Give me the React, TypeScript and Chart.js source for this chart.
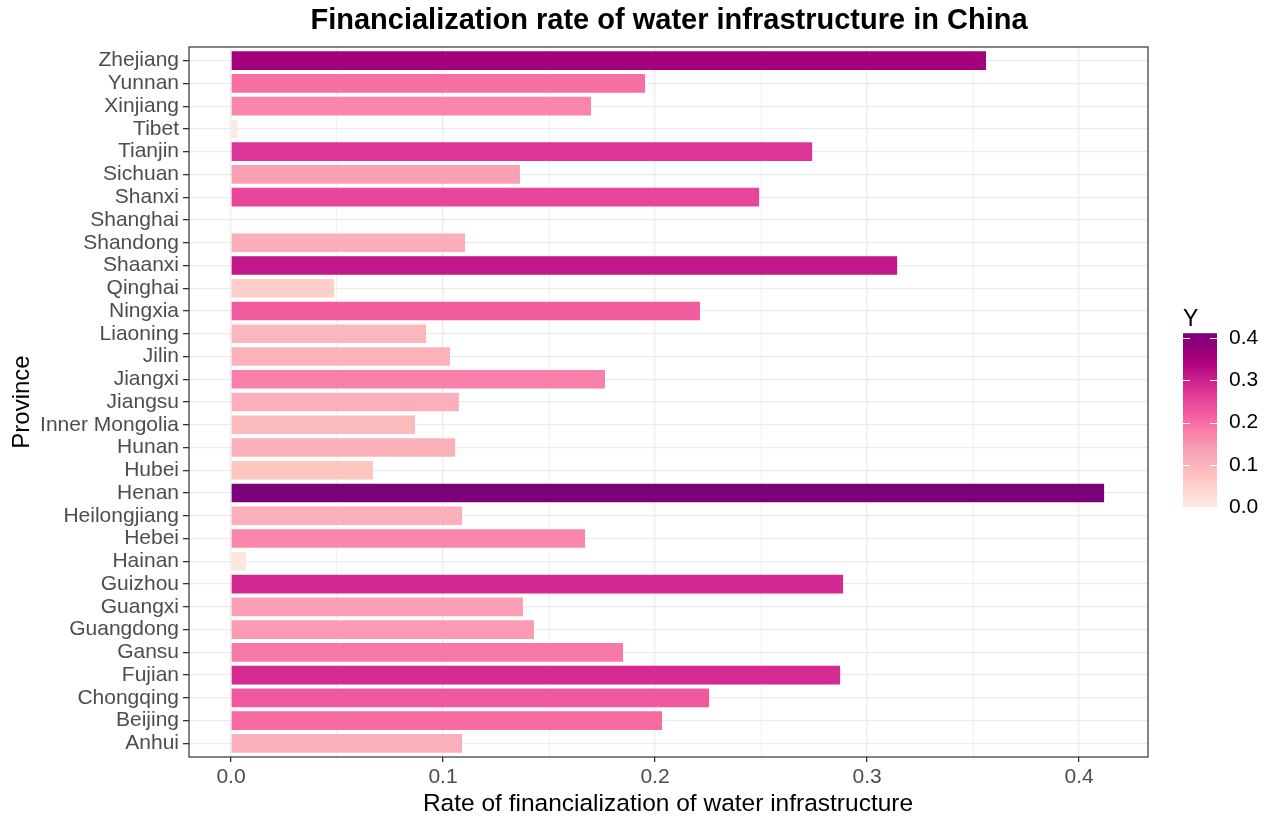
import React, { useEffect, useRef } from 'react';
import { Chart, registerables } from 'chart.js';

Chart.register(...registerables);

const provinces = [
  'Anhui', 'Beijing', 'Chongqing', 'Fujian', 'Gansu', 'Guangdong', 'Guangxi', 'Guizhou',
  'Hainan', 'Hebei', 'Heilongjiang', 'Henan', 'Hubei', 'Hunan', 'Inner Mongolia', 'Jiangsu',
  'Jiangxi', 'Jilin', 'Liaoning', 'Ningxia', 'Qinghai', 'Shaanxi', 'Shandong', 'Shanghai',
  'Shanxi', 'Sichuan', 'Tianjin', 'Tibet', 'Xinjiang', 'Yunnan', 'Zhejiang',
];

const rates = [
  0.109, 0.2033, 0.2255, 0.2873, 0.1849, 0.1429, 0.1377, 0.2887,
  0.0071, 0.167, 0.109, 0.4118, 0.067, 0.1057, 0.0868, 0.1075,
  0.1764, 0.1033, 0.092, 0.2212, 0.0486, 0.3142, 0.1104, 0,
  0.2491, 0.1363, 0.2741, 0.003, 0.1698, 0.1953, 0.3561,
];

const xTickValues = [0, 0.05, 0.1, 0.15, 0.2, 0.25, 0.3, 0.35, 0.4];
const legendTicks = [0, 0.1, 0.2, 0.3, 0.4];

const paletteStops = ['#feebe2', '#fcc5c0', '#fa9fb5', '#f768a1', '#dd3497', '#ae017e', '#7a0177'];

const FONT = '"Liberation Sans", Arial, Helvetica, sans-serif';

function hexToRgb(h: string) {
  const n = parseInt(h.slice(1), 16);
  return [(n >> 16) & 255, (n >> 8) & 255, n & 255];
}

const vMin = Math.min(...rates);
const vMax = Math.max(...rates);

function colorFor(v: number) {
  let t = (v - vMin) / (vMax - vMin);
  t = Math.max(0, Math.min(1, t));
  const pos = t * (paletteStops.length - 1);
  const i = Math.min(Math.floor(pos), paletteStops.length - 2);
  const f = pos - i;
  const a = hexToRgb(paletteStops[i]);
  const b = hexToRgb(paletteStops[i + 1]);
  const c = a.map((x, k) => Math.round(x + (b[k] - x) * f));
  return `rgb(${c[0]},${c[1]},${c[2]})`;
}

const isMajor = (v: number) => Math.abs(Math.round(v * 10) - v * 10) < 1e-6;

const decorPlugin = {
  id: 'decor',
  afterDraw(chart: any) {
    const { ctx, chartArea } = chart;
    const { left, right, top, bottom } = chartArea;
    ctx.save();
    // panel border
    ctx.strokeStyle = '#333333';
    ctx.lineWidth = 1.2;
    ctx.strokeRect(left, top, right - left, bottom - top);

    // title
    ctx.fillStyle = '#000000';
    ctx.textAlign = 'center';
    ctx.textBaseline = 'middle';
    ctx.font = `bold 29px ${FONT}`;
    ctx.fillText('Financialization rate of water infrastructure in China', 669, 21);

    // x title
    ctx.font = `24.5px ${FONT}`;
    ctx.fillText('Rate of financialization of water infrastructure', 668, 804);

    // y title
    ctx.save();
    ctx.translate(22, (top + bottom) / 2);
    ctx.rotate(-Math.PI / 2);
    ctx.font = `24px ${FONT}`;
    ctx.fillText('Province', 0, 0);
    ctx.restore();

    // legend
    const barX = 1183;
    const barW = 34;
    const y0 = 507;
    const perUnit = 422;
    const yOf = (v: number) => y0 - (v - vMin) * perUnit;
    const yTop = yOf(vMax);
    const grad = ctx.createLinearGradient(0, y0, 0, yTop);
    const steps = 40;
    for (let s = 0; s <= steps; s++) {
      const v = vMin + (vMax - vMin) * (s / steps);
      grad.addColorStop(s / steps, colorFor(v));
    }
    ctx.fillStyle = grad;
    ctx.fillRect(barX, yTop, barW, y0 - yTop);

    ctx.strokeStyle = '#ffffff';
    ctx.lineWidth = 1;
    ctx.font = `21px ${FONT}`;
    ctx.fillStyle = '#000000';
    ctx.textAlign = 'left';
    ctx.textBaseline = 'middle';
    legendTicks.forEach((v) => {
      const y = Math.round(yOf(v)) + 0.5;
      ctx.beginPath();
      ctx.moveTo(barX, y);
      ctx.lineTo(barX + 7, y);
      ctx.moveTo(barX + barW - 7, y);
      ctx.lineTo(barX + barW, y);
      ctx.stroke();
      ctx.fillText(v.toFixed(1), 1229, yOf(v));
    });

    ctx.textAlign = 'left';
    ctx.textBaseline = 'alphabetic';
    ctx.font = `23px ${FONT}`;
    ctx.fillText('Y', 1183, 326);
    ctx.restore();
  },
};

export default function App() {
  const ref = useRef<HTMLCanvasElement | null>(null);

  useEffect(() => {
    if (!ref.current) return;
    Chart.defaults.font.family = FONT;
    const chart = new Chart(ref.current, {
      type: 'bar',
      data: {
        datasets: [
          {
            data: rates.map((v, i) => ({ x: v, y: i })) as any,
            backgroundColor: rates.map(colorFor),
            borderWidth: 0,
            barPercentage: 0.82,
            categoryPercentage: 1,
          },
        ],
      },
      options: {
        indexAxis: 'y',
        animation: false,
        responsive: false,
        maintainAspectRatio: false,
        layout: { padding: { top: 47, right: 123, bottom: 0, left: 0 } },
        plugins: {
          legend: { display: false },
          tooltip: { enabled: false },
          title: { display: false },
        },
        scales: {
          x: {
            type: 'linear',
            min: -0.0198,
            max: 0.4325,
            afterBuildTicks: (s: any) => {
              s.ticks = xTickValues.map((v) => ({ value: v }));
            },
            afterFit: (s: any) => {
              s.height = 821 - 757;
            },
            border: { display: false },
            grid: {
              color: '#EBEBEB',
              lineWidth: (c: any) => (isMajor(c.tick.value) ? 1.3 : 0.7),
              tickColor: (c: any) => (isMajor(c.tick.value) ? '#333333' : 'rgba(0,0,0,0)'),
              tickLength: 5,
            },
            ticks: {
              autoSkip: false,
              maxRotation: 0,
              padding: 3,
              color: '#4D4D4D',
              font: { size: 21, family: FONT },
              callback: (v: any) => (isMajor(Number(v)) ? Number(v).toFixed(1) : ''),
            },
          },
          y: {
            type: 'linear',
            min: -0.6,
            max: 30.6,
            offset: false,
            afterBuildTicks: (s: any) => {
              s.ticks = provinces.map((_, i) => ({ value: i }));
            },
            afterFit: (s: any) => {
              s.width = 189;
            },
            border: { display: false },
            grid: {
              offset: false,
              color: '#EBEBEB',
              lineWidth: 1.3,
              tickColor: '#333333',
              tickLength: 6,
            },
            ticks: {
              autoSkip: false,
              padding: 4,
              color: '#4D4D4D',
              font: { size: 21, family: FONT },
              callback: (v: any) => provinces[Math.round(Number(v))] ?? '',
            },
          },
        },
      },
      plugins: [decorPlugin],
    });
    return () => chart.destroy();
  }, []);

  return (
    <div style={{ position: 'absolute', left: 0, top: 0, width: 1271, height: 821, background: '#ffffff' }}>
      <canvas ref={ref} width={1271} height={821} style={{ display: 'block', width: 1271, height: 821 }} />
    </div>
  );
}
